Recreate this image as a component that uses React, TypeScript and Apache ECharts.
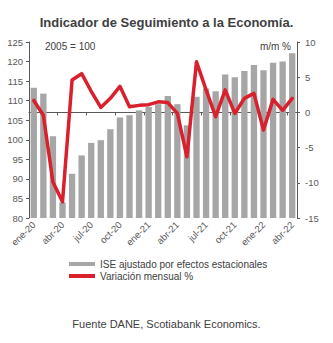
import React, { useEffect, useRef } from "react";
import * as echarts from "echarts";

const categories = [
  "ene-20", "feb-20", "mar-20", "abr-20", "may-20", "jun-20", "jul-20", "ago-20", "sep-20", "oct-20", "nov-20", "dic-20",
  "ene-21", "feb-21", "mar-21", "abr-21", "may-21", "jun-21", "jul-21", "ago-21", "sep-21", "oct-21", "nov-21", "dic-21",
  "ene-22", "feb-22", "mar-22", "abr-22",
];

const iseValues = [
  113.3, 111.8, 100.9, 84.0, 91.3, 96.0, 99.2, 99.9, 102.7, 105.7, 106.3, 107.5,
  108.4, 109.1, 111.2, 109.1, 103.7, 111.0, 113.1, 112.4, 116.7, 116.0, 117.6, 119.1,
  117.8, 119.7, 120.0, 122.1,
];

const mmValues = [
  1.7, -0.4, -9.9, -12.7, 4.6, 5.5, 3.0, 0.7, 2.0, 3.7, 0.8, 1.0,
  1.1, 1.5, 1.4, -0.15, -6.3, 7.2, 3.2, -0.6, 3.2, -0.15, 2.0, 2.7,
  -2.5, 1.85, 0.3, 2.0,
];

const seriesNames = ["ISE ajustado por efectos estacionales", "Variación mensual %"];
const titleText = "Indicador de Seguimiento a la Economía.";
const baseText = "2005 = 100";
const unitText = "m/m %";
const sourceText = "Fuente DANE, Scotiabank Economics.";

const FONT = "'Liberation Sans', Arial, sans-serif";
const GRAY = "#a6a6a6";
const RED = "#d9202c";
const TEXT = "#404040";
const AXIS = "#595959";

export default function App() {
  const ref = useRef<HTMLDivElement>(null);

  useEffect(() => {
    if (!ref.current) return;
    const chart = echarts.init(ref.current, null, { renderer: "svg" });
    chart.setOption({
      animation: false,
      backgroundColor: "#ffffff",
      textStyle: { fontFamily: FONT },
      title: {
        text: titleText,
        left: "center",
        top: 11,
        textStyle: { fontSize: 13, fontWeight: "bold", color: TEXT, fontFamily: FONT },
      },
      grid: { left: 29, right: 36, top: 42, bottom: 125, containLabel: false },
      legend: {
        orient: "vertical",
        left: 64,
        top: 254,
        itemGap: 2,
        itemWidth: 26,
        itemHeight: 4,
        textStyle: { fontSize: 10, color: TEXT, fontFamily: FONT },
        data: [
          { name: seriesNames[0], icon: "rect", itemStyle: { color: GRAY } },
          { name: seriesNames[1], icon: "rect", itemStyle: { color: RED } },
        ],
      },
      xAxis: {
        type: "category",
        data: categories,
        boundaryGap: true,
        axisLine: { lineStyle: { color: AXIS, width: 1 } },
        axisTick: { show: true, interval: 2, length: 3, lineStyle: { color: AXIS } },
        axisLabel: {
          interval: 2,
          rotate: 45,
          fontSize: 9.5,
          color: AXIS,
          margin: 5,
          fontFamily: FONT,
        },
        splitLine: { show: false },
      },
      yAxis: [
        {
          type: "value",
          min: 80,
          max: 125,
          interval: 5,
          position: "left",
          axisLine: { show: true, lineStyle: { color: AXIS, width: 1 } },
          axisTick: { show: true, length: 3, lineStyle: { color: AXIS } },
          axisLabel: { fontSize: 9.5, color: AXIS, margin: 6, fontFamily: FONT },
          splitLine: { show: false },
        },
        {
          type: "value",
          min: -15,
          max: 10,
          interval: 5,
          position: "right",
          axisLine: { show: true, lineStyle: { color: AXIS, width: 1 } },
          axisTick: { show: true, length: 3, lineStyle: { color: AXIS } },
          axisLabel: { fontSize: 9.5, color: AXIS, margin: 8, fontFamily: FONT },
          splitLine: { show: false },
        },
      ],
      series: [
        {
          name: seriesNames[0],
          type: "bar",
          yAxisIndex: 0,
          data: iseValues,
          barCategoryGap: "34%",
          itemStyle: { color: GRAY },
          z: 2,
        },
        {
          name: seriesNames[1],
          type: "line",
          yAxisIndex: 1,
          data: mmValues,
          symbol: "none",
          lineStyle: { color: RED, width: 3.5, join: "round", cap: "round" },
          itemStyle: { color: RED },
          z: 3,
        },
      ],
      graphic: [
        {
          type: "text",
          left: 45,
          top: 41,
          style: { text: baseText, fontSize: 10, fill: TEXT, fontFamily: FONT },
        },
        {
          type: "text",
          right: 42,
          top: 41,
          style: { text: unitText, fontSize: 10, fill: TEXT, fontFamily: FONT },
        },
        {
          type: "text",
          left: "center",
          top: 318,
          style: { text: sourceText, fontSize: 11, fill: TEXT, fontFamily: FONT },
        },
      ],
    });
    return () => chart.dispose();
  }, []);

  return (
    <div
      ref={ref}
      style={{ position: "fixed", left: 0, top: 0, width: 333, height: 343, background: "#fff" }}
    />
  );
}
